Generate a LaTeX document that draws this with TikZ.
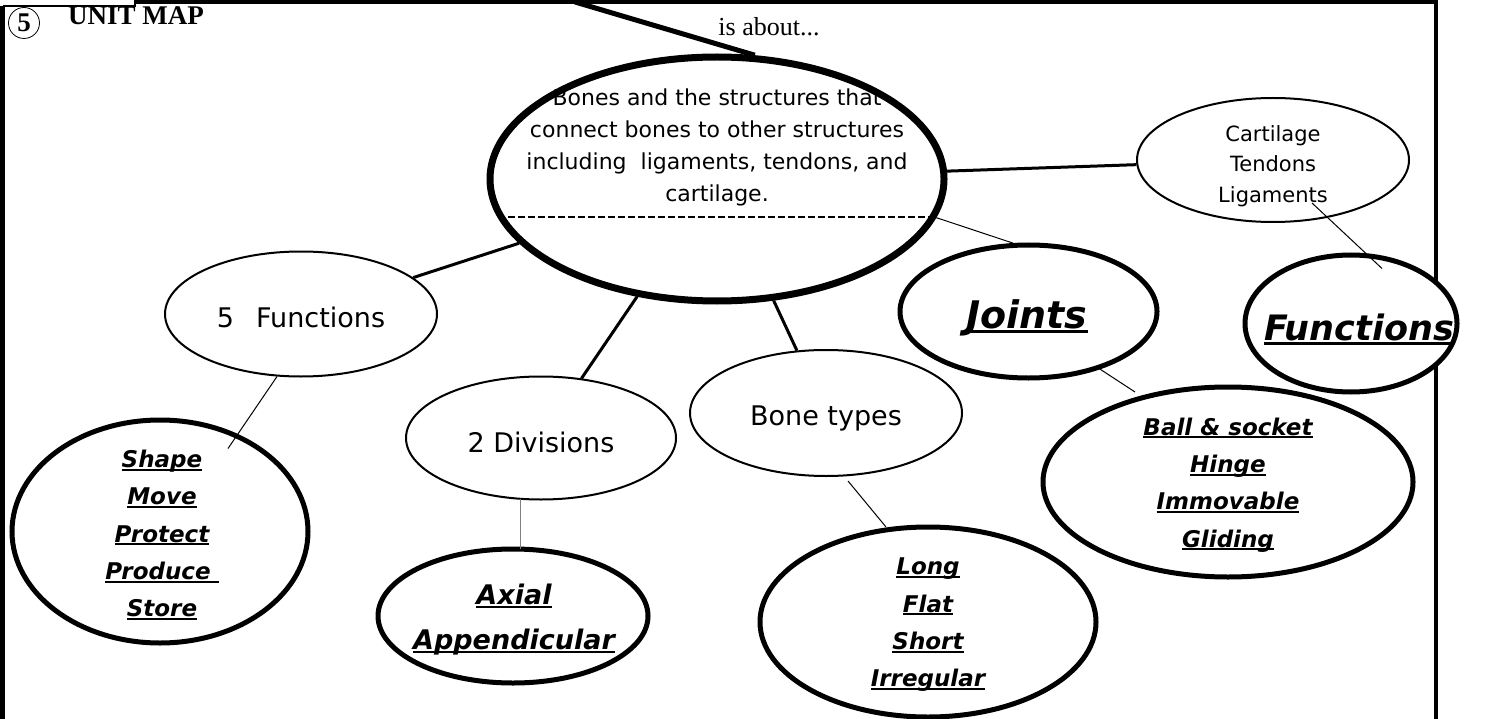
\documentclass[tikz,border=0pt]{standalone}
\usepackage{fontspec}
\setmainfont{DejaVu Sans}[ItalicFont={DejaVu Sans Oblique},BoldFont={DejaVu Sans Bold},BoldItalicFont={DejaVu Sans Bold Oblique}]
\newfontfamily\timesfont{Liberation Serif}
\usetikzlibrary{shapes.geometric,calc}

\newcommand{\ulword}[1]{\setbox0=\hbox{#1}\rlap{\rule[-0.13em]{\wd0}{0.08em}}\box0}

\begin{document}
\begin{tikzpicture}[x=1pt,y=-1pt,
  blob/.style={ellipse, draw, fill=white, line width=2pt, inner sep=0pt},
  boldblob/.style={blob, line width=5pt},
  topicblob/.style={ellipse, draw, line width=7pt, inner sep=0pt},
  plaintext/.style={inner sep=0pt, font=\fontsize{27}{32}\selectfont},
  itemtext/.style={inner sep=0pt, align=center, font=\bfseries\itshape\fontsize{23}{37.3}\selectfont},
  bigitem/.style={inner sep=0pt, font=\bfseries\itshape\fontsize{#1}{#1}\selectfont},
  branch/.style={line width=3pt},
  twig/.style={line width=1pt}
]

\useasboundingbox (0,0) rectangle (1495,719);

%outer frame
\draw[line width=5pt]   (2.5,6) -- (2.5,719);                  %left
\draw[line width=2.5pt] (2.5,6) -- (135,6) -- (135,0);        %tab
\draw[line width=4pt]   (135,2) -- (1435.5,2) -- (1435.5,719); %top, right

%header
\node[draw, circle, line width=0.8pt, minimum size=31, inner sep=0pt,
      font=\timesfont\bfseries\fontsize{27}{27}\selectfont] (unitno) at (24,23) {5};
\node[anchor=base west, inner sep=0pt,
      font=\timesfont\bfseries\fontsize{27}{27}\selectfont] (unittitle) at (68,25) {UNIT MAP};
\node[anchor=base, inner sep=0pt,
      font=\timesfont\fontsize{26}{26}\selectfont] (about) at (769,36) {is about...};

%central topic
\node[inner sep=0pt, align=center, font=\fontsize{22}{32}\selectfont] (topictext) at (717,147)
  {Bones and the structures that\\connect bones to other structures\\including\ \ ligaments, tendons, and\\cartilage.};
\node[topicblob, minimum width=454, minimum height=244] (topic) at (717,179) {};
\draw[line width=1.5pt, dash pattern=on 7pt off 3pt] (498,217) -- (938,217);

\coordinate (callout) at (575,2);
\draw[line width=5pt] (callout) -- (topic.73.8);

%first ring
\node[blob, minimum width=272, minimum height=125] (fivefn) at (301,314) {};
\node[plaintext, anchor=base] (fivefntext) at (301,327) {5\hspace{22pt}Functions};
%
\node[blob, minimum width=270, minimum height=123] (divs) at (541,438) {};
\node[plaintext, anchor=base] (divstext) at (541,452) {2 Divisions};
%
\node[blob, minimum width=272, minimum height=126] (bonetypes) at (826,413) {};
\node[plaintext, anchor=base] (bonetext) at (826,425) {Bone types};
%
\node[blob, minimum width=272, minimum height=124] (cart) at (1273,160) {};
\node[inner sep=0pt, align=center, font=\fontsize{21}{30.5}\selectfont] (carttext) at (1273,166)
  {Cartilage\\Tendons\\Ligaments};

%second ring
\node[boldblob, minimum width=296, minimum height=223] (shape) at (160,531.5) {};
\node[itemtext] (shapetext) at (162,535)
  {\ulword{Shape}\\\ulword{Move}\\\ulword{Protect}\\\ulword{Produce~}\\\ulword{Store}};
%
\node[boldblob, minimum width=270, minimum height=134] (axial) at (513,616) {};
\node[itemtext, font=\bfseries\itshape\fontsize{27}{45}\selectfont] (axialtext) at (514,620)
  {\ulword{Axial}\\\ulword{Appendicular}};
%
\node[boldblob, minimum width=336, minimum height=190] (longs) at (928,622) {};
\node[itemtext] (longtext) at (928,625)
  {\ulword{Long}\\\ulword{Flat}\\\ulword{Short}\\\ulword{Irregular}};
%
\node[boldblob, minimum width=257, minimum height=133] (joints) at (1028.5,311.5) {};
\node[bigitem=38, anchor=base] (jointstext) at (1027,328) {\ulword{Joints}};
%
\node[boldblob, minimum width=370, minimum height=190] (ball) at (1228,482) {};
\node[itemtext] (balltext) at (1228,485)
  {\ulword{Ball \& socket}\\\ulword{Hinge}\\\ulword{Immovable}\\\ulword{Gliding}};
%
\node[boldblob, minimum width=212, minimum height=137] (funcs) at (1351,323.5) {};
\node[bigitem=35, anchor=base] (funcstext) at (1359,340) {\ulword{Functions}};

%links
\draw[branch] (topic) -- (fivefn);
\draw[branch] (topic) -- (divs);
\draw[branch] (topic) -- (bonetypes);
\draw[branch] (topic) -- (cart);
\draw[twig] (topic.-10.6) -- (joints.103.6);
%
\draw[twig]       ($(cart.center)+(39,43)$)       -- ($(funcs.center)+(31,-55)$);
\draw[twig]       ($(joints.center)+(69,56)$)     -- ($(ball.center)+(-93,-90)$);
\draw[twig]       (fivefn.-111.5)                  -- ($(shape.center)+(68,-83)$);
\draw[twig, gray] ($(divs.center)+(-21,61)$)       -- ($(axial.center)+(7,-67)$);
\draw[twig]       ($(bonetypes.center)+(22,68)$)  -- ($(longs.center)+(-42,-95)$);

\end{tikzpicture}
\end{document}
